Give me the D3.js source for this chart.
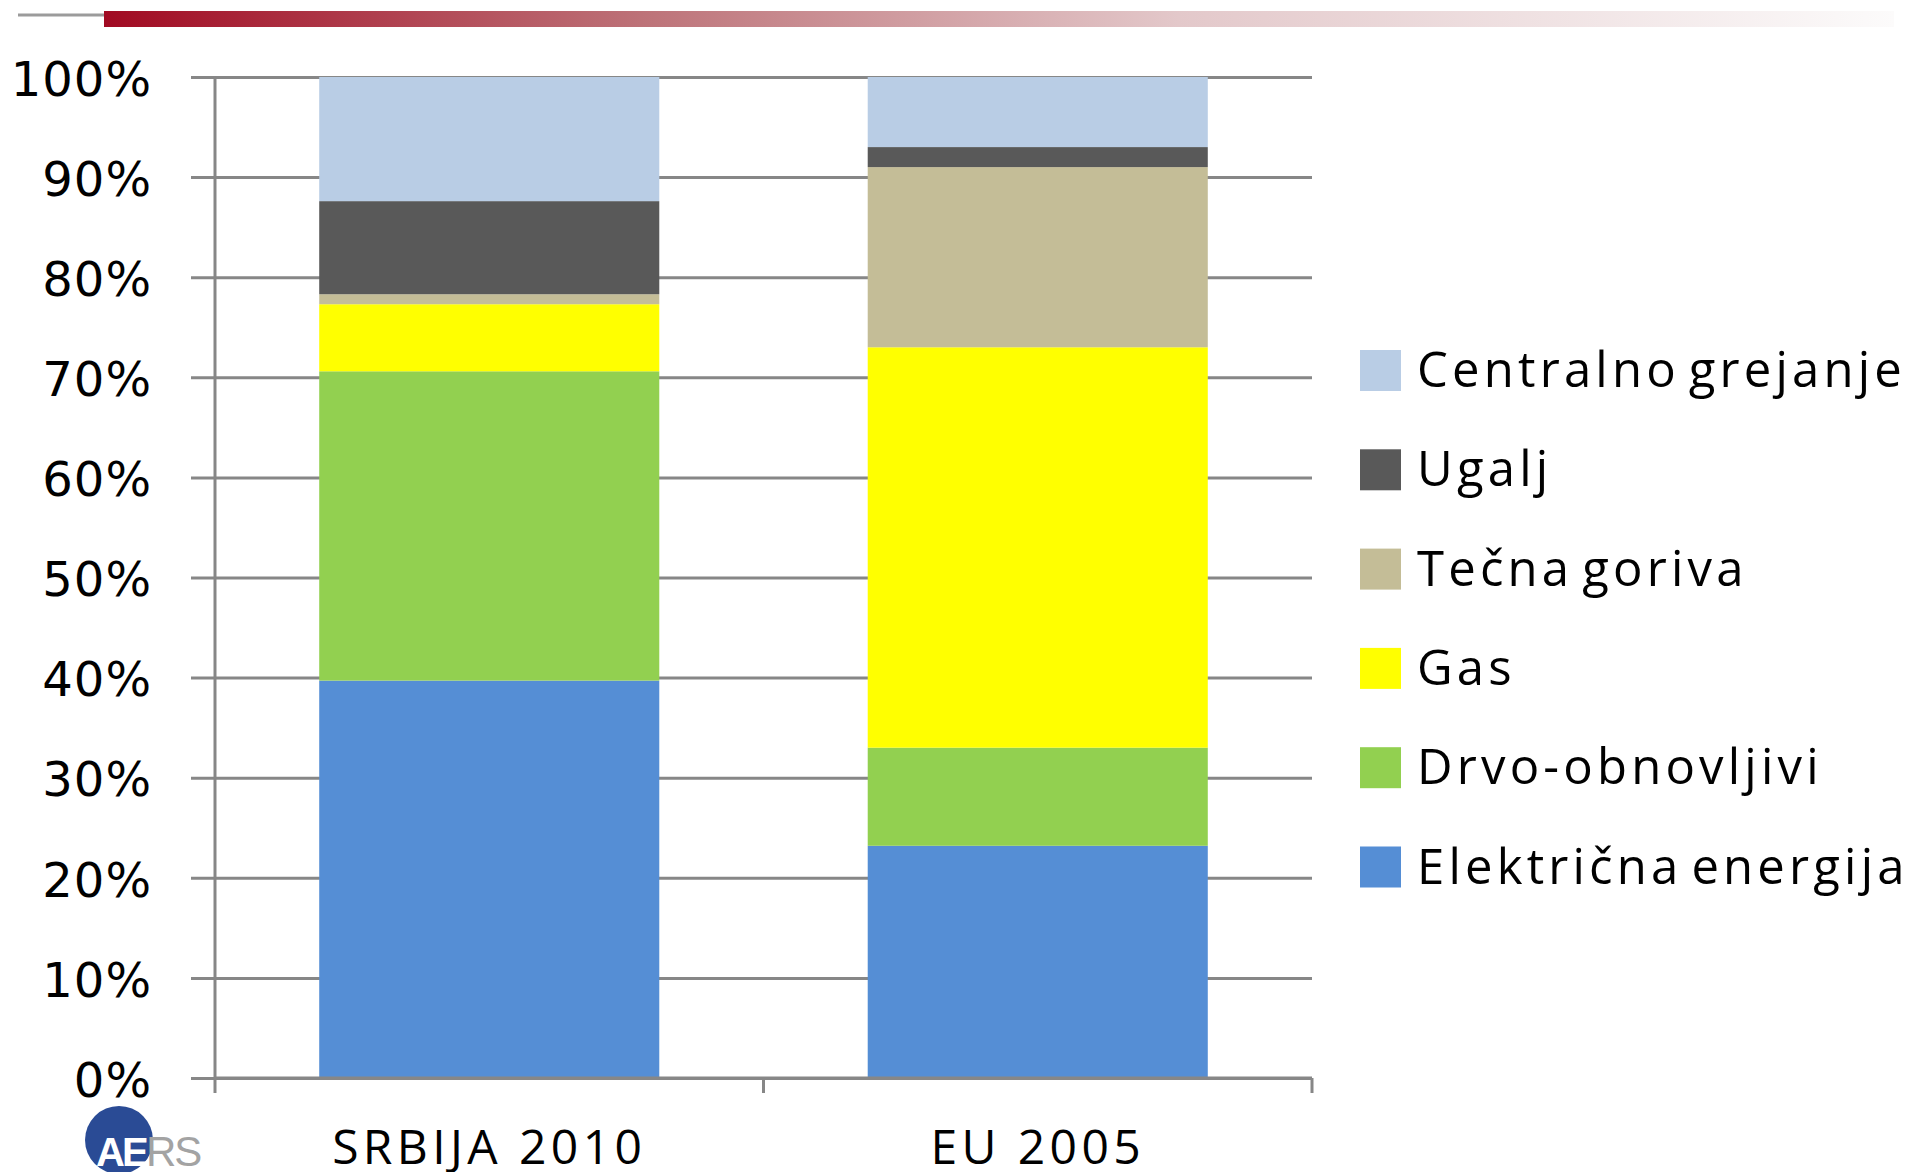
<!DOCTYPE html>
<html lang="sr">
<head>
    <meta charset="UTF-8">
    <title>Struktura potrošnje energije za grejanje</title>
    <style>
        body{
            margin: 0;
            overflow: hidden;
            background: #fff;
        }
    </style>
</head>
<body>
    <script src="https://cdnjs.cloudflare.com/ajax/libs/d3/7.8.2/d3.min.js"></script>
    <script>

const categories = ['SRBIJA 2010', 'EU 2005']
const series = ['Električna energija', 'Drvo-obnovljivi', 'Gas', 'Tečna goriva', 'Ugalj', 'Centralno grejanje']
const srbija2010 = [39.7, 30.9, 6.7, 1.0, 9.3, 12.4]
const eu2005 = [23.2, 9.8, 40.0, 18.0, 2.0, 7.0]
const yTicks = [0, 10, 20, 30, 40, 50, 60, 70, 80, 90, 100]

const W = 1917, H = 1172
const plotLeft = 215, plotRight = 1312, plotTop = 77, plotBottom = 1078
const grey = '#878787'

const color = d3.scaleOrdinal()
  .domain(series)
  .range(['#558ed5', '#92d050', '#ffff00', '#c4bd97', '#595959', '#b9cde5'])

// table for d3.stack: one row per category
const rows = categories.map((c, i) => {
  const r = {cat: c}
  const vals = i === 0 ? srbija2010 : eu2005
  series.forEach((s, j) => r[s] = vals[j])
  return r
})
const stacked = d3.stack().keys(series)(rows)

const svg = d3.select('body')
  .append('svg')
  .attr('width', W)
  .attr('height', H)

// header stripe
const grad = svg.append('defs').append('linearGradient').attr('id', 'stripe')
grad.selectAll('stop')
  .data([[0, '#a10a22'], [0.3, '#bd7278'], [0.6, '#e3c8ca'], [1, '#fcfbfb']])
  .join('stop')
  .attr('offset', d => d[0])
  .attr('stop-color', d => d[1])

svg.append('line')
  .attr('x1', 18).attr('x2', 104).attr('y1', 15).attr('y2', 15)
  .attr('stroke', '#9b9b9b').attr('stroke-width', 3)
svg.append('rect')
  .attr('x', 104).attr('y', 11).attr('width', 1790).attr('height', 16)
  .attr('fill', 'url(#stripe)')

const x = d3.scaleBand()
  .domain(categories)
  .range([plotLeft, plotRight])
  .paddingInner(0.38)
  .paddingOuter(0.19)

const y = d3.scaleLinear()
  .domain([0, 100])
  .range([plotBottom, plotTop])

// gridlines + y labels
const yAxis = svg.append('g')
  .attr('transform', `translate(${plotLeft - 24},0)`)
  .call(d3.axisLeft(y)
    .tickValues(yTicks)
    .tickSize(-(plotRight - plotLeft + 24))
    .tickPadding(39)
    .tickFormat(d => d + '%'))

yAxis.select('.domain').remove()
yAxis.selectAll('.tick line')
  .attr('stroke', grey)
  .attr('stroke-width', 3)
yAxis.selectAll('.tick text')
  .attr('font-family', '"DejaVu Sans", Verdana, sans-serif')
  .attr('font-size', 48)
  .attr('letter-spacing', 1)
  .attr('fill', '#000')
  .attr('dy', '0.38em')

// bars
svg.append('g')
  .selectAll('g')
  .data(stacked)
  .join('g')
  .attr('fill', d => color(d.key))
  .selectAll('rect')
  .data(d => d)
  .join('rect')
  .attr('x', d => x(d.data.cat))
  .attr('width', x.bandwidth())
  .attr('y', d => y(d[1]))
  .attr('height', d => y(d[0]) - y(d[1]))

// axes lines
svg.append('line')
  .attr('x1', plotLeft).attr('x2', plotLeft)
  .attr('y1', plotTop).attr('y2', plotBottom + 15)
  .attr('stroke', grey).attr('stroke-width', 3)

svg.append('line')
  .attr('x1', plotLeft).attr('x2', plotRight)
  .attr('y1', plotBottom).attr('y2', plotBottom)
  .attr('stroke', grey).attr('stroke-width', 3)

svg.append('g')
  .selectAll('line')
  .data(d3.range(1, categories.length + 1))
  .join('line')
  .attr('x1', i => plotLeft + i * x.step())
  .attr('x2', i => plotLeft + i * x.step())
  .attr('y1', plotBottom)
  .attr('y2', plotBottom + 15)
  .attr('stroke', grey)
  .attr('stroke-width', 3)

// category labels
const xAxis = svg.append('g')
  .attr('transform', `translate(0,${plotBottom})`)
  .call(d3.axisBottom(x).tickSize(0).tickPadding(52))
xAxis.select('.domain').remove()
xAxis.selectAll('.tick text')
  .attr('font-family', '"Open Sans", sans-serif')
  .attr('font-size', 48)
  .attr('letter-spacing', 4.4)
  .attr('fill', '#000')

// legend
const legend = svg.append('g')
  .selectAll('g')
  .data(series.slice().reverse())
  .join('g')
  .attr('transform', (d, i) => `translate(1360,${370 + i * 99.3})`)

legend.append('rect')
  .attr('x', 0).attr('y', -20)
  .attr('width', 41).attr('height', 41)
  .attr('fill', d => color(d))

legend.append('text')
  .attr('x', 57)
  .attr('y', 17)
  .attr('font-family', '"Open Sans", sans-serif')
  .attr('font-size', 49)
  .attr('letter-spacing', 4.2)
  .attr('word-spacing', -8)
  .attr('fill', '#000')
  .text(d => d)

// AERS logo
const logo = svg.append('g')
logo.append('circle')
  .attr('cx', 119).attr('cy', 1140).attr('r', 34)
  .attr('fill', '#2a4b95')
logo.append('text')
  .attr('x', 96).attr('y', 1166)
  .attr('font-family', '"Liberation Sans Narrow", "Liberation Sans", sans-serif')
  .attr('font-weight', 'bold')
  .attr('font-size', 40)
  .attr('letter-spacing', -3)
  .attr('fill', '#fff')
  .text('AE')
logo.append('text')
  .attr('x', 146).attr('y', 1166)
  .attr('font-family', '"Liberation Sans Narrow", "Liberation Sans", sans-serif')
  .attr('font-size', 42)
  .attr('letter-spacing', -2)
  .attr('fill', '#a3a3a3')
  .text('RS')

    </script>
</body>
</html>
